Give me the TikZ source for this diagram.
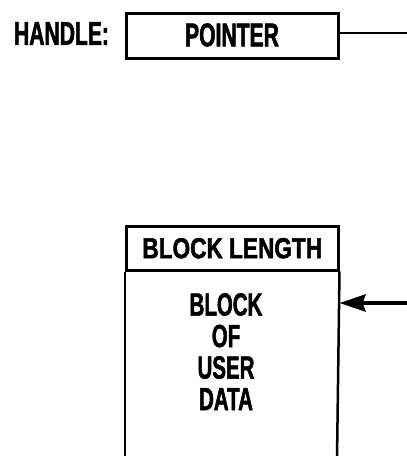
\documentclass[tikz,border=0pt]{standalone}
\usepackage{fontspec}
\usetikzlibrary{arrows.meta}
\newfontfamily\condA[FakeStretch=0.64,FakeBold=1.6]{Liberation Sans}
\newfontfamily\condB[FakeStretch=0.78,FakeBold=1.6]{Liberation Sans}
\begin{document}
\begin{tikzpicture}[x=1pt,y=1pt,
  lbl/.style={inner sep=0pt, font=\condA\bfseries\fontsize{33}{33}\selectfont},
  boxed/.style={draw, line width=2.5pt, inner sep=0pt},
  conn/.style={line width=2.5pt},
  bigarrow/.style={line width=4pt, -{Stealth[length=26pt,width=17pt,inset=3pt]}}]
\useasboundingbox (0,0) rectangle (407,-456);
% top part
\node[lbl, anchor=center] (handle) at (61.5,-33.5) {HANDLE:};
\node[boxed, minimum width=212pt, minimum height=45pt, anchor=north west] (ptr) at (125,-12) {};
\node[lbl] (ptrtext) at (232,-35) {POINTER};
\coordinate (ptrend) at (408,-33);
\draw[conn] (ptr.east |- ptrend) -- (ptrend);
% bottom block
\node[boxed, minimum width=212pt, minimum height=44pt, anchor=north west,
  font=\condB\bfseries\fontsize{29}{29}\selectfont] (hdr) at (125,-225) {BLOCK LENGTH};
\coordinate (bl) at (125,-460);
\coordinate (br) at (337,-460);
\draw[conn] (hdr.south west) -- (bl);
\draw[conn] (hdr.south east) -- (br);
\node[lbl, align=center, font=\condA\bfseries\fontsize{32}{31.5}\selectfont, anchor=north] (data) at (226,-293)
  {BLOCK\\OF\\USER\\DATA};
\coordinate (arrstart) at (408,-303);
\draw[bigarrow] (arrstart) -- (hdr.east |- arrstart);
\end{tikzpicture}
\end{document}
